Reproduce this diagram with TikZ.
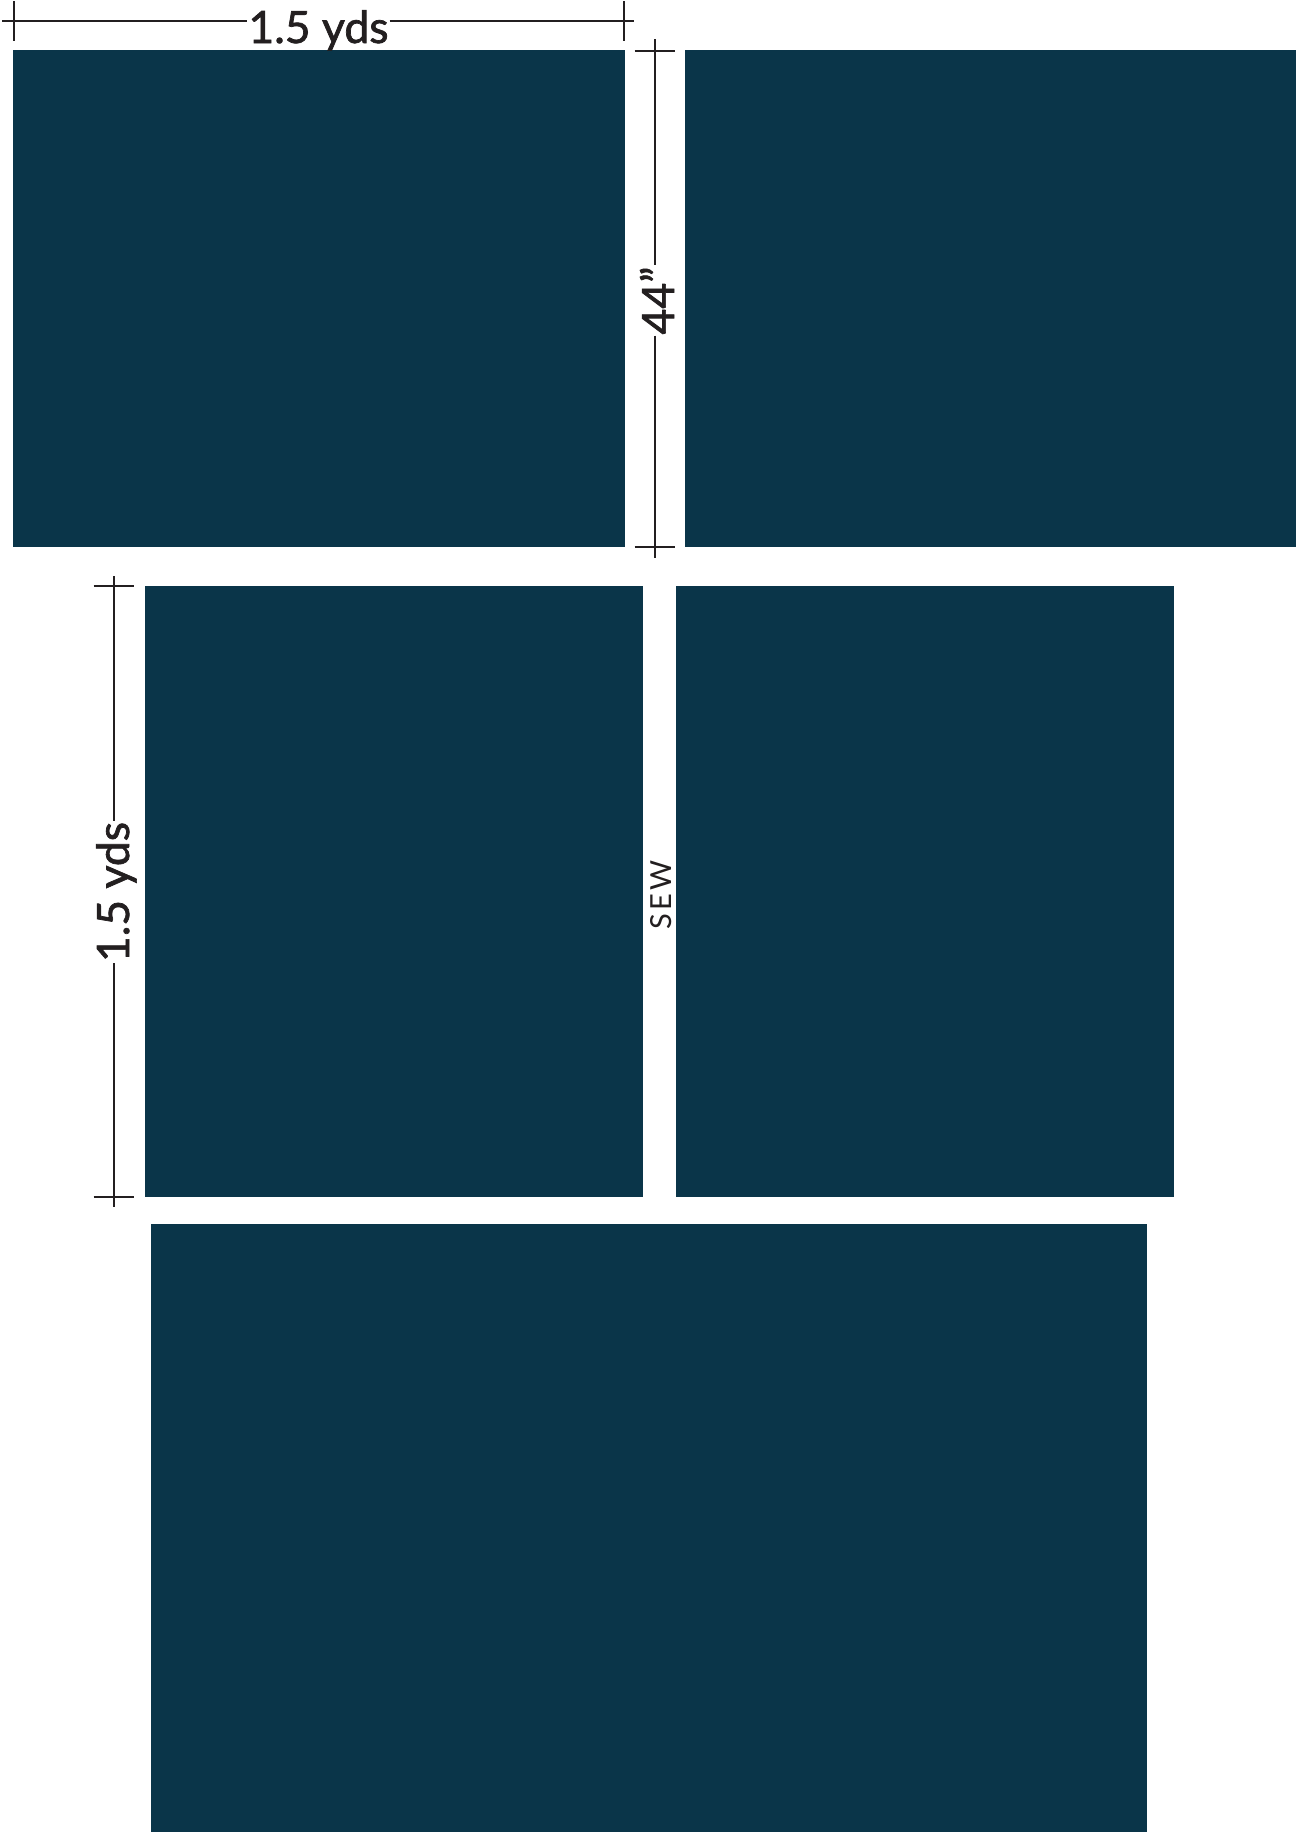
\documentclass[tikz,border=0pt]{standalone}
\usepackage{fontspec}
\usepackage{xcolor}
\usepackage{tikz}
\usetikzlibrary{calc, positioning}
\newfontfamily\dimfont[FakeBold=1.6]{Lato}
\newfontfamily\sewfont[LetterSpace=12]{Lato}
\definecolor{fabricteal}{RGB}{10, 53, 73}
\definecolor{dimink}{RGB}{35, 31, 32}

\begin{document}
\begin{tikzpicture}[
    x=1pt, y=-1pt,
    panel/.style={rectangle, fill=fabricteal, draw=none, inner sep=0pt, outer sep=0pt, anchor=north west},
    dimline/.style={draw=dimink, line width=2pt},
    dimlabel/.style={font=\dimfont\fontsize{44.5}{48}\selectfont, text=dimink, inner xsep=1pt, inner ysep=0pt, anchor=base},
    sewlabel/.style={font=\sewfont\fontsize{29}{31}\selectfont, text=dimink, inner sep=0pt, anchor=base, rotate=90}
]
\useasboundingbox (0,0) rectangle (1299,1832);

% Fabric panels
\node[panel, minimum width=612pt, minimum height=497pt] (topleft) at (13,50) {};
\node[panel, minimum width=611pt, minimum height=497pt] (topright) at (685,50) {};
\node[panel, minimum width=498pt, minimum height=611pt] (midleft) at (145,586) {};
\node[panel, minimum width=498pt, minimum height=611pt] (midright) at (676,586) {};
\node[panel, minimum width=996pt, minimum height=608pt] (bottom) at (151,1224) {};

% Width of top panel
\coordinate (wa) at (2,20.5);
\coordinate (wb) at (634,20.5);
\coordinate (wtickl) at (14,20.5);
\coordinate (wtickr) at (624,20.5);
\node[dimlabel] (wlab) at (318.5,43) {1.5 yds};
\draw[dimline] (wa) -- (wa -| wlab.west);
\draw[dimline] (wlab.east |- wb) -- (wb);
\draw[dimline] ([yshift=-20pt]wtickl) -- ([yshift=20pt]wtickl);
\draw[dimline] ([yshift=-20pt]wtickr) -- ([yshift=20pt]wtickr);

% Height of top panels
\coordinate (ha) at (654.5,39);
\coordinate (hb) at (654.5,558);
\coordinate (htickt) at (654.5,51);
\coordinate (htickb) at (654.5,546.5);
\node[dimlabel, rotate=90] (hlab) at (674,300.5) {44”};
\draw[dimline] (ha) -- (ha |- hlab.east);
\draw[dimline] (hlab.west -| hb) -- (hb);
\draw[dimline] ([xshift=-20pt]htickt) -- ([xshift=20pt]htickt);
\draw[dimline] ([xshift=-20pt]htickb) -- ([xshift=20pt]htickb);

% Length of middle panels
\coordinate (la) at (113.5,576);
\coordinate (lb) at (113.5,1207);
\coordinate (ltickt) at (113.5,586);
\coordinate (ltickb) at (113.5,1197);
\node[dimlabel, rotate=90] (llab) at (129,892) {1.5 yds};
\draw[dimline] (la) -- (la |- llab.east);
\draw[dimline] (llab.west -| lb) -- (lb);
\draw[dimline] ([xshift=-20pt]ltickt) -- ([xshift=20pt]ltickt);
\draw[dimline] ([xshift=-20pt]ltickb) -- ([xshift=20pt]ltickb);

% Seam
\node[sewlabel] (sew) at (671,895) {SEW};

\end{tikzpicture}
\end{document}
